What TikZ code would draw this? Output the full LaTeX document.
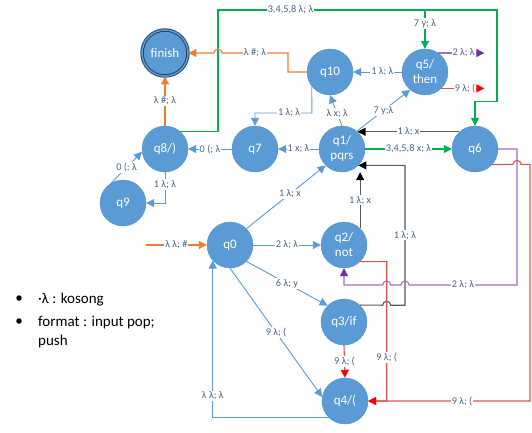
\documentclass[tikz,border=0pt]{standalone}
\usepackage{fontspec}
\setmainfont{Carlito}
\usetikzlibrary{arrows.meta}
\definecolor{nblue}{RGB}{91,155,213}
\definecolor{fdark}{RGB}{40,60,90}
\definecolor{lblc}{RGB}{80,100,135}
\definecolor{eorange}{RGB}{237,125,49}
\definecolor{egreen}{RGB}{0,176,80}
\definecolor{epurl}{RGB}{160,110,200}
\definecolor{epurd}{RGB}{112,48,160}
\definecolor{eredl}{RGB}{228,80,80}
\definecolor{egray}{RGB}{90,90,90}
\begin{document}
\begin{tikzpicture}[x=1pt,y=1pt,
  state/.style={circle,fill=nblue,draw=nblue!92!black,line width=0.4pt,minimum size=46pt,inner sep=0pt,
    text=white,font=\fontsize{13}{15}\selectfont,align=center},
  final/.style={state,draw=fdark,line width=0.9pt,double=nblue,double distance=1.6pt},
  lbl/.style={fill=white,inner sep=1pt,text=lblc,font=\fontsize{10.3}{11}\selectfont},
  eb/.style={draw=nblue,line width=0.9pt,-{Triangle[length=8pt,width=8pt]}},
  eo/.style={draw=eorange,line width=1.1pt,-{Triangle[length=8pt,width=8pt]}},
  eg/.style={draw=egreen,line width=1.1pt,-{Triangle[length=8pt,width=8pt]}},
  ep/.style={draw=epurl,line width=1.1pt,-{Triangle[length=8pt,width=8pt,color=epurd]}},
  er/.style={draw=eredl,line width=1.1pt,-{Triangle[length=8pt,width=8pt,color=red]}},
  ek/.style={draw=egray,line width=1.1pt,-{Triangle[length=8pt,width=8pt,color=black]}},
  legend/.style={font=\fontsize{15}{19}\selectfont,text=black,inner sep=0pt},
  bullet/.style={circle,fill=black,inner sep=0pt,minimum size=5.5pt}
]
\path[fill=white,use as bounding box] (0,0) rectangle (532,-432);

% states
\node[final] (finish) at (165,-53) {finish};
\node[state] (q10) at (330,-72) {q10};
\node[state] (q5)  at (425,-72) {q5/\\then};
\node[state] (q8)  at (165,-149) {q8/)};
\node[state] (q7)  at (255,-149) {q7};
\node[state] (q1)  at (342,-149) {q1/\\pqrs};
\node[state] (q6)  at (475,-149) {q6};
\node[state] (q9)  at (123,-203) {q9};
\node[state] (q0)  at (230,-245) {q0};
\node[state] (q2)  at (344,-245) {q2/\\not};
\node[state] (q3)  at (344,-322) {q3/if};
\node[state] (q4)  at (345,-401) {q4/(};

% green long connector q8 -> q6
\draw[eg] (q8.49) -| (218,-10) -- node[lbl,pos=0.26]{3,4,5,8 λ; λ} (497,-10) -- (497,-101.7) -| (q6.north);
\coordinate (g7) at (425,-10);
\draw[eg] (g7) -- node[lbl,pos=0.35]{7 y; λ} (q5.north);

% orange
\draw[eo] (q10.west) -| (288,-53) -- node[lbl]{λ \#; λ} (222,-53) arc[start angle=0,end angle=180,radius=4] -- (finish.east);
\draw[eo] (q8.north) -- node[lbl]{λ \#; λ} (finish.south);
\coordinate (start) at (146,-245);
\draw[eo] (start) -- node[lbl]{λ λ; \#} (q0.west);

% blue
\draw[eb] (q10.218) -- (311.9,-113) -- node[lbl,pos=0.4]{1 λ; λ} (255,-113) -- (q7.north);
\draw[eb] (q5.west) -- node[lbl,pos=0.4]{1 λ; λ} (q10.east);
\draw[eb] (q1.north) -- node[lbl,pos=0.4]{λ x; λ} (q10.south);
\draw[eb] (q1.50) -- node[lbl]{7 y;λ} (q5.230);
\draw[eb] (q1.west) -- node[lbl]{1 x; λ} (q7.east);
\draw[eb] (q7.west) -- node[lbl]{0 (; λ} (q8.east);
\draw[eb] (q8.south) |- node[lbl,pos=0.2]{1 λ; λ} (q9.east);
\draw[eb] (q9.121) -- node[lbl]{0 (; λ} (q8.187);
\draw[eb] (q0.45) -- node[lbl,pos=0.55]{1 λ; x} (q1.225);
\draw[eb] (q0.east) -- node[lbl]{2 λ; λ} (q2.west);
\draw[eb] (q0.-45) -- node[lbl]{6 λ; y} (q3.135);
\draw[eb] (q0.south) -- node[lbl]{9 λ; (} (q4.170);
\draw[eb] (q4.226) -| node[lbl,pos=0.57]{λ λ; λ} (q0.222);

% black
\draw[ek] (q6.132) -- node[lbl]{1 λ; x} (q1.48);
\draw[ek] (q2.46) -- node[lbl]{1 λ; x} (q2.46 |- q1.south);
\draw[ek] (q3.47) -- (382.7,-305.2) arc[start angle=180,end angle=0,radius=4] -- (405,-305.2)
   -- node[lbl]{1 λ; λ} (405,-165.3) -- (q1.-45);

% green q1 -> q6
\draw[eg] (q1.east) -- node[lbl]{3,4,5,8 x; λ} (q6.west);

% stubs from q5
\path (q5.55) ++(46,0) coordinate (sp);
\path (q5.-45) ++(43,0) coordinate (sr);
\draw[ep] (q5.55) -- node[lbl,pos=0.55]{2 λ; λ} (sp);
\draw[er] (q5.-45) -- node[lbl,pos=0.55]{9 λ; (} (sr);

% purple q6 -> q2
\draw[ep] (q6.east) -- (517,-149) -- (517,-285) -- node[lbl]{2 λ; λ} (409,-285)
   arc[start angle=0,end angle=180,radius=4] -- (390.7,-285)
   arc[start angle=0,end angle=180,radius=4] -- (344,-285) -- (q2.south);

% red
\draw[er] (q2.-46) -- (386.7,-261.5) -- node[lbl,pos=0.69]{9 λ; (} (386.7,-401) -- (q4.east);
\draw[er] (q6.-42) -- (513,-164.4) arc[start angle=180,end angle=0,radius=4] -- (530,-164.4)
   -- (530,-401) -- node[lbl,pos=0.42]{9 λ; (} (q4.east);
\draw[er] (q3.south) -- node[lbl]{9 λ; (} (q4.north);

% legend
\node[bullet] (b1) at (19,-298) {};
\node[legend,anchor=base west] (t1) at (38,-303) {·λ : kosong};
\node[bullet] (b2) at (19,-321) {};
\node[legend,anchor=base west] (t2) at (38,-326) {format : input pop;};
\node[legend,anchor=base west] (t3) at (38,-345) {push};
\end{tikzpicture}
\end{document}
